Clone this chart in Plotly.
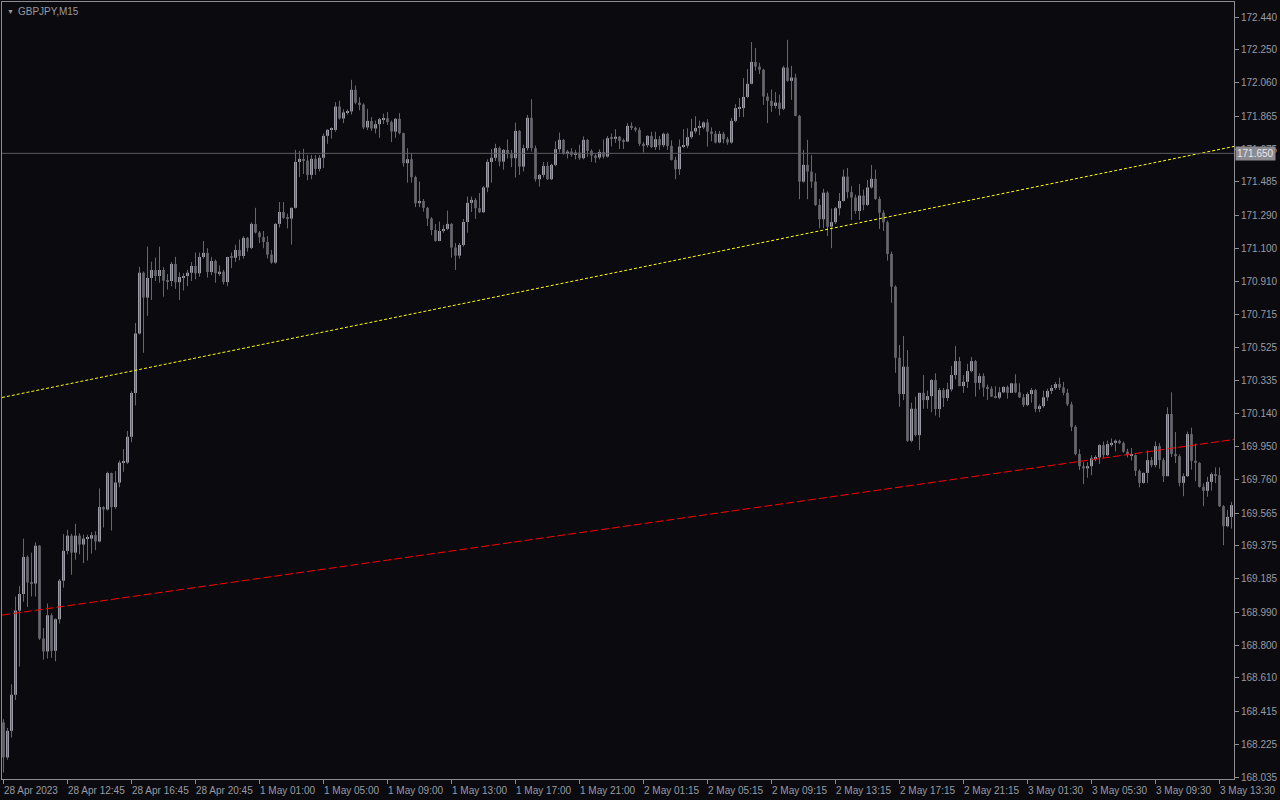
import plotly.graph_objects as go

# ---------------- data ----------------
symbol_title = "GBPJPY,M15"
first_open = 168.352

close = [
    168.149, 168.303, 168.512, 169.000, 169.096, 169.311, 169.163, 169.157, 169.376, 168.838,
    168.763, 168.973, 168.767, 168.950, 169.173, 169.346, 169.434, 169.336, 169.434, 169.383,
    169.417, 169.417, 169.437, 169.401, 169.600, 169.586, 169.797, 169.600, 169.742, 169.858,
    169.858, 170.007, 170.261, 170.606, 170.958, 170.814, 170.928, 170.974, 170.939, 170.974,
    170.912, 170.910, 171.009, 170.903, 170.933, 170.939, 170.958, 170.997, 170.955, 171.049,
    171.073, 170.962, 171.026, 170.955, 170.964, 170.904, 171.049, 171.045, 171.090, 171.055,
    171.160, 171.102, 171.241, 171.191, 171.164, 171.136, 171.063, 171.017, 171.241, 171.310,
    171.276, 171.272, 171.334, 171.600, 171.618, 171.608, 171.525, 171.618, 171.560, 171.624,
    171.751, 171.786, 171.786, 171.921, 171.852, 171.887, 171.893, 172.018, 171.944, 171.933,
    171.800, 171.838, 171.794, 171.819, 171.848, 171.853, 171.831, 171.776, 171.850, 171.767,
    171.593, 171.616, 171.512, 171.361, 171.374, 171.334, 171.272, 171.206, 171.142, 171.200,
    171.212, 171.241, 171.104, 171.057, 171.119, 171.252, 171.363, 171.380, 171.332, 171.309,
    171.452, 171.600, 171.624, 171.680, 171.602, 171.670, 171.645, 171.622, 171.780, 171.573,
    171.680, 171.856, 171.680, 171.500, 171.525, 171.577, 171.500, 171.583, 171.674, 171.728,
    171.647, 171.660, 171.641, 171.654, 171.622, 171.728, 171.664, 171.637, 171.626, 171.658,
    171.631, 171.738, 171.734, 171.746, 171.722, 171.718, 171.809, 171.798, 171.786, 171.705,
    171.697, 171.751, 171.686, 171.732, 171.697, 171.763, 171.693, 171.612, 171.558, 171.689,
    171.694, 171.744, 171.777, 171.797, 171.800, 171.829, 171.776, 171.763, 171.713, 171.763,
    171.732, 171.713, 171.838, 171.912, 171.912, 171.977, 172.053, 172.180, 172.153, 172.134,
    171.979, 171.954, 171.925, 171.944, 171.908, 172.147, 172.070, 172.089, 171.867, 171.486,
    171.583, 171.544, 171.486, 171.351, 171.268, 171.422, 171.225, 171.251, 171.332, 171.374,
    171.515, 171.425, 171.394, 171.316, 171.405, 171.351, 171.452, 171.502, 171.386, 171.306,
    171.250, 171.067, 170.877, 170.465, 170.255, 170.413, 169.984, 170.170, 170.017, 170.262,
    170.220, 170.243, 170.336, 170.168, 170.278, 170.232, 170.282, 170.365, 170.446, 170.301,
    170.326, 170.388, 170.446, 170.320, 170.359, 170.293, 170.286, 170.240, 170.234, 170.265,
    170.296, 170.262, 170.317, 170.265, 170.236, 170.191, 170.255, 170.278, 170.168, 170.185,
    170.236, 170.273, 170.290, 170.313, 170.293, 170.262, 170.195, 170.065, 169.907, 169.837,
    169.824, 169.837, 169.882, 169.888, 169.959, 169.901, 169.965, 169.972, 169.984, 169.971,
    169.921, 169.901, 169.901, 169.810, 169.740, 169.798, 169.872, 169.843, 169.953, 169.872,
    169.779, 170.139, 169.907, 169.895, 169.740, 169.779, 170.023, 169.868, 169.856, 169.717,
    169.694, 169.746, 169.791, 169.785, 169.605, 169.489, 169.543, 169.611,
]

high = [
    168.370, 168.320, 168.573, 169.082, 169.142, 169.417, 169.320, 169.336, 169.396, 169.380,
    168.899, 169.041, 168.985, 168.955, 169.183, 169.443, 169.468, 169.445, 169.503, 169.448,
    169.440, 169.440, 169.455, 169.460, 169.708, 169.605, 169.805, 169.800, 169.808, 169.870,
    169.936, 170.041, 170.271, 170.667, 170.992, 170.965, 171.109, 171.022, 171.045, 171.109,
    170.990, 170.950, 171.020, 171.050, 170.960, 170.955, 170.975, 171.020, 171.075, 171.075,
    171.142, 171.100, 171.050, 171.035, 171.000, 170.975, 171.050, 171.075, 171.120, 171.150,
    171.170, 171.165, 171.250, 171.334, 171.200, 171.200, 171.170, 171.090, 171.245, 171.368,
    171.368, 171.300, 171.335, 171.670, 171.664, 171.676, 171.640, 171.640, 171.640, 171.640,
    171.765, 171.790, 171.800, 171.947, 171.955, 171.905, 171.905, 172.076, 172.043, 171.975,
    171.940, 171.908, 171.860, 171.840, 171.855, 171.880, 171.890, 171.840, 171.855, 171.883,
    171.770, 171.680, 171.650, 171.520, 171.486, 171.385, 171.340, 171.280, 171.240, 171.255,
    171.235, 171.318, 171.245, 171.130, 171.130, 171.270, 171.400, 171.400, 171.390, 171.420,
    171.460, 171.615, 171.675, 171.705, 171.690, 171.675, 171.730, 171.670, 171.828, 171.785,
    171.700, 171.873, 171.964, 171.695, 171.530, 171.600, 171.600, 171.590, 171.720, 171.770,
    171.732, 171.670, 171.680, 171.670, 171.700, 171.748, 171.733, 171.673, 171.645, 171.673,
    171.730, 171.750, 171.765, 171.790, 171.750, 171.735, 171.825, 171.830, 171.805, 171.800,
    171.715, 171.755, 171.775, 171.775, 171.750, 171.770, 171.770, 171.725, 171.630, 171.730,
    171.790, 171.795, 171.850, 171.865, 171.840, 171.835, 171.848, 171.800, 171.780, 171.780,
    171.775, 171.745, 171.855, 171.935, 171.970, 172.086, 172.138, 172.295, 172.260, 172.175,
    172.140, 172.000, 172.020, 172.005, 171.990, 172.157, 172.308, 172.157, 172.111, 171.873,
    171.670, 171.728, 171.640, 171.535, 171.385, 171.445, 171.430, 171.330, 171.340, 171.420,
    171.555, 171.565, 171.460, 171.410, 171.472, 171.440, 171.495, 171.583, 171.555, 171.400,
    171.320, 171.260, 171.080, 170.885, 170.539, 170.591, 170.510, 170.205, 170.240, 170.262,
    170.365, 170.275, 170.342, 170.375, 170.290, 170.290, 170.320, 170.418, 170.533, 170.470,
    170.365, 170.430, 170.470, 170.452, 170.375, 170.375, 170.310, 170.300, 170.300, 170.295,
    170.300, 170.305, 170.320, 170.370, 170.317, 170.255, 170.265, 170.290, 170.285, 170.195,
    170.275, 170.285, 170.308, 170.325, 170.350, 170.325, 170.285, 170.210, 170.075, 169.935,
    169.860, 169.860, 169.900, 169.900, 169.965, 169.980, 169.985, 169.998, 169.992, 169.990,
    169.980, 169.938, 169.942, 169.905, 169.818, 169.800, 169.928, 169.890, 169.980, 169.970,
    169.885, 170.178, 170.265, 170.035, 169.905, 169.795, 170.037, 170.060, 169.968, 169.860,
    169.737, 169.776, 169.800, 169.830, 169.830, 169.611, 169.583, 169.630,
]

low = [
    168.062, 168.136, 168.264, 168.482, 168.675, 169.051, 169.021, 169.082, 169.082, 168.830,
    168.716, 168.722, 168.726, 168.706, 168.925, 169.133, 169.326, 169.208, 169.295, 169.326,
    169.275, 169.290, 169.330, 169.350, 169.395, 169.482, 169.580, 169.464, 169.590, 169.715,
    169.804, 169.850, 169.976, 170.189, 170.600, 170.494, 170.708, 170.800, 170.910, 170.900,
    170.819, 170.860, 170.880, 170.865, 170.800, 170.855, 170.880, 170.910, 170.920, 170.935,
    171.040, 170.930, 170.945, 170.900, 170.940, 170.890, 170.880, 170.985, 171.020, 171.030,
    171.040, 171.080, 171.095, 171.185, 171.130, 171.100, 171.040, 171.010, 171.010, 171.220,
    171.270, 171.215, 171.121, 171.330, 171.512, 171.530, 171.494, 171.500, 171.525, 171.545,
    171.565, 171.705, 171.735, 171.775, 171.845, 171.825, 171.875, 171.875, 171.935, 171.900,
    171.790, 171.785, 171.780, 171.765, 171.740, 171.820, 171.815, 171.715, 171.740, 171.760,
    171.573, 171.480, 171.480, 171.338, 171.338, 171.312, 171.229, 171.175, 171.138, 171.140,
    171.190, 171.205, 171.045, 170.974, 171.040, 171.110, 171.190, 171.310, 171.270, 171.305,
    171.305, 171.425, 171.480, 171.605, 171.575, 171.555, 171.620, 171.570, 171.510, 171.525,
    171.545, 171.665, 171.660, 171.486, 171.457, 171.510, 171.495, 171.495, 171.575, 171.655,
    171.642, 171.620, 171.630, 171.615, 171.612, 171.615, 171.630, 171.600, 171.595, 171.615,
    171.620, 171.625, 171.690, 171.710, 171.675, 171.675, 171.715, 171.785, 171.775, 171.692,
    171.655, 171.685, 171.680, 171.670, 171.670, 171.685, 171.670, 171.608, 171.500, 171.525,
    171.680, 171.680, 171.735, 171.765, 171.755, 171.790, 171.689, 171.720, 171.707, 171.708,
    171.708, 171.700, 171.705, 171.830, 171.860, 171.860, 171.970, 172.050, 172.130, 172.110,
    171.931, 171.825, 171.890, 171.910, 171.870, 171.900, 172.065, 171.960, 171.865, 171.384,
    171.480, 171.384, 171.450, 171.345, 171.216, 171.216, 171.171, 171.100, 171.240, 171.290,
    171.370, 171.390, 171.264, 171.300, 171.264, 171.320, 171.345, 171.445, 171.380, 171.212,
    171.200, 171.028, 170.784, 170.378, 170.181, 170.220, 169.978, 169.975, 170.010, 169.930,
    170.170, 170.170, 170.150, 170.130, 170.120, 170.180, 170.215, 170.270, 170.340, 170.300,
    170.262, 170.290, 170.380, 170.240, 170.280, 170.240, 170.220, 170.238, 170.230, 170.225,
    170.260, 170.228, 170.260, 170.260, 170.232, 170.180, 170.185, 170.205, 170.150, 170.150,
    170.175, 170.215, 170.255, 170.280, 170.278, 170.248, 170.185, 170.040, 169.900, 169.815,
    169.733, 169.770, 169.785, 169.865, 169.850, 169.885, 169.895, 169.950, 169.922, 169.965,
    169.915, 169.888, 169.870, 169.780, 169.714, 169.735, 169.740, 169.830, 169.830, 169.822,
    169.745, 169.779, 169.890, 169.855, 169.720, 169.663, 169.775, 169.817, 169.750, 169.713,
    169.605, 169.660, 169.695, 169.738, 169.600, 169.379, 169.483, 169.475,
]

# time labels every 16 bars (M15 -> 4 hours)
time_label_bars = [0, 16, 32, 48, 64, 80, 96, 112, 128, 144, 160, 176, 192, 208, 224, 240, 256, 272, 288, 304]
time_labels = ["28 Apr 2023", "28 Apr 12:45", "28 Apr 16:45", "28 Apr 20:45", "1 May 01:00",
               "1 May 05:00", "1 May 09:00", "1 May 13:00", "1 May 17:00", "1 May 21:00",
               "2 May 01:15", "2 May 05:15", "2 May 09:15", "2 May 13:15", "2 May 17:15",
               "2 May 21:15", "3 May 01:30", "3 May 05:30", "3 May 09:30", "3 May 13:30"]

price_ticks = [172.440, 172.250, 172.060, 171.865, 171.675, 171.485, 171.290, 171.100, 170.910,
               170.715, 170.525, 170.335, 170.140, 169.950, 169.760, 169.565, 169.375, 169.185,
               168.990, 168.800, 168.610, 168.415, 168.225, 168.035]

hline_price = 171.650
# trend lines: (bar, price) end points at the chart edges
yellow_bars = [-0.375, 307.625]
yellow_prices = [170.235, 171.690]
red_bars = [-0.375, 307.625]
red_prices = [168.974, 169.992]

# ---------------- styling ----------------
BG = "#0b0b0f"
BULL = "#9b9ba6"
BEAR = "#5a5a60"
WICK = "#66666c"
AXIS = "#8c8c92"
TEXT = "#9a9aa2"
FONT = "Liberation Sans"
FS = 10

n = len(close)
bars = list(range(n))
open_ = [first_open] + close[:-1]

bull_x, bull_base, bull_h = [], [], []
bear_x, bear_base, bear_h = [], [], []
min_h = 0.006
for i in bars:
    o, c = open_[i], close[i]
    lo_b, hi_b = min(o, c), max(o, c)
    h = max(hi_b - lo_b, min_h)
    if c >= o:
        bull_x.append(i); bull_base.append(lo_b); bull_h.append(h)
    else:
        bear_x.append(i); bear_base.append(lo_b); bear_h.append(h)

wx, wy = [], []
for i in bars:
    o, c = open_[i], close[i]
    wx += [i, i, None]
    wy += [min(low[i], o, c), max(high[i], o, c), None]

fig = go.Figure()
fig.add_trace(go.Scatter(x=wx, y=wy, mode="lines", line=dict(color=WICK, width=1),
                         hoverinfo="skip", showlegend=False))
fig.add_trace(go.Bar(x=bull_x, y=bull_h, base=bull_base, width=0.75,
                     marker=dict(color=BULL, line=dict(width=0)), showlegend=False))
fig.add_trace(go.Bar(x=bear_x, y=bear_h, base=bear_base, width=0.75,
                     marker=dict(color=BEAR, line=dict(width=0)), showlegend=False))
fig.add_trace(go.Scatter(x=yellow_bars, y=yellow_prices, mode="lines",
                         line=dict(color="#ffff00", width=1, dash="3px,2px"),
                         hoverinfo="skip", showlegend=False))
fig.add_trace(go.Scatter(x=red_bars, y=red_prices, mode="lines",
                         line=dict(color="#ff0000", width=1, dash="8px,3px"),
                         hoverinfo="skip", showlegend=False))

fig.add_shape(type="line", xref="paper", x0=0, x1=1, yref="y", y0=hline_price, y1=hline_price,
              line=dict(color="#5c5c62", width=1))

annotations = []
for b, t in zip(time_label_bars, time_labels):
    annotations.append(dict(x=b, y=0, xref="x", yref="paper", text=t, showarrow=False,
                            xanchor="left", yanchor="top", xshift=-2, yshift=-4,
                            font=dict(family=FONT, size=FS, color=TEXT)))
annotations.append(dict(x=0, y=1, xref="paper", yref="paper", text=symbol_title, showarrow=False,
                        xanchor="left", yanchor="top", xshift=14, yshift=-2,
                        font=dict(family=FONT, size=FS, color=TEXT)))
annotations.append(dict(x=0, y=1, xref="paper", yref="paper", text="▼", showarrow=False,
                        xanchor="left", yanchor="top", xshift=3, yshift=-4,
                        font=dict(family=FONT, size=7, color=TEXT)))
annotations.append(dict(x=1, y=hline_price, xref="paper", yref="y", text=f"{hline_price:.3f}",
                        showarrow=False, xanchor="left", yanchor="middle", xshift=1,
                        bgcolor="#8a8a90", borderpad=1,
                        font=dict(family=FONT, size=FS, color="#e8e8ec")))

fig.update_layout(
    width=1280, height=800,
    margin=dict(l=2, r=46, t=2, b=21),
    paper_bgcolor=BG, plot_bgcolor=BG,
    barmode="overlay",
    showlegend=False,
    annotations=annotations,
    xaxis=dict(range=[-0.375, n - 0.375], showgrid=False, zeroline=False,
               showline=True, mirror=True, linecolor=AXIS, linewidth=1,
               tickvals=time_label_bars, ticks="outside", ticklen=4, tickcolor=AXIS,
               showticklabels=False, fixedrange=True),
    yaxis=dict(range=[168.024, 172.527], side="right", showgrid=False, zeroline=False,
               showline=True, mirror=True, linecolor=AXIS, linewidth=1,
               tickvals=price_ticks, ticktext=[f"{v:.3f}" for v in price_ticks],
               ticks="outside", ticklen=4, tickcolor=AXIS,
               tickfont=dict(family=FONT, size=FS, color=TEXT), fixedrange=True),
)

fig.write_html("out.html", config={"displayModeBar": False},
               post_script="document.body.style.margin='0';document.body.style.overflow='hidden';")
